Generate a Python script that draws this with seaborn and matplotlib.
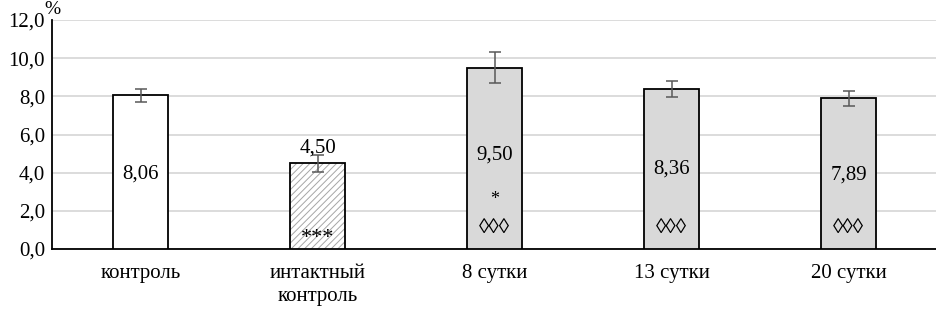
import matplotlib
matplotlib.use("Agg")
import matplotlib.pyplot as plt
import matplotlib.colors as mcolors
import seaborn as sns
import pandas as pd

categories = ["контроль", "интактный\nконтроль", "8 сутки", "13 сутки", "20 сутки"]
values = [8.06, 4.50, 9.50, 8.36, 7.89]
errors = [0.35, 0.45, 0.80, 0.42, 0.40]
value_labels = ["8,06", "4,50", "9,50", "8,36", "7,89"]
yticks = [0, 2, 4, 6, 8, 10, 12]
ytick_labels = ["0,0", "2,0", "4,0", "6,0", "8,0", "10,0", "12,0"]

sns.set_theme(style="white")
plt.rcParams['font.family'] = ['Liberation Serif', 'DejaVu Serif']
plt.rcParams['text.color'] = 'black'
plt.rcParams['xtick.color'] = 'black'
plt.rcParams['ytick.color'] = 'black'
plt.rcParams['hatch.linewidth'] = 0.7

FS = 15

df = pd.DataFrame({"cat": categories, "val": values})
fig = plt.figure(figsize=(9.37, 3.11), dpi=100)
ax = fig.add_axes([52/937, 1 - 249/311, (937-52)/937, 229/311])

colors = ["white", "white", "#d9d9d9", "#d9d9d9", "#d9d9d9"]
sns.barplot(data=df, x="cat", y="val", hue="cat", palette=colors, legend=False,
            width=0.316, edgecolor="black", linewidth=1.3, ax=ax, errorbar=None, zorder=3)
hp = ax.patches[1]
hp.set_hatch("/////")
hp._hatch_color = mcolors.to_rgba("#a6a6a6")

xs = list(range(len(categories)))
ax.errorbar(xs, values, yerr=errors, fmt="none", ecolor="#595959",
            elinewidth=1.1, capsize=4, capthick=1.1, zorder=4)

ax.set_ylim(0, 12)
ax.set_xlim(-0.5, len(categories) - 0.5)
ax.set_yticks(yticks)
ax.set_yticklabels(ytick_labels, fontsize=FS)
ax.set_xticks(xs)
ax.set_xticklabels(categories, fontsize=FS, linespacing=1.3)
ax.tick_params(axis="x", length=0, pad=11)
ax.tick_params(axis="y", length=0, pad=5)
ax.set_xlabel("")
ax.set_ylabel("")
ax.yaxis.grid(True, color="#d9d9d9", linewidth=1.3, zorder=0)
ax.set_axisbelow(True)
for s in ["top", "right"]:
    ax.spines[s].set_visible(False)
for s in ["left", "bottom"]:
    ax.spines[s].set_color("black")
    ax.spines[s].set_linewidth(1.3)

label_y = [3.95, 5.3, 4.9, 4.2, 3.9]
for i, (lab, ly) in enumerate(zip(value_labels, label_y)):
    ax.text(i, ly, lab, ha="center", va="center", fontsize=FS, zorder=5)

ax.text(1, 0.55, "***", ha="center", va="center", fontsize=16, zorder=5)
ax.text(2, 2.6, "*", ha="center", va="center", fontsize=13, zorder=5)
for i in [2, 3, 4]:
    ax.text(i, 1.1, "◊◊◊", ha="center", va="center", fontsize=15, zorder=5)

fig.text(52/937, 1 - 10/311, "%", ha="center", va="center", fontsize=14)

fig.savefig("out.png", dpi=100)
